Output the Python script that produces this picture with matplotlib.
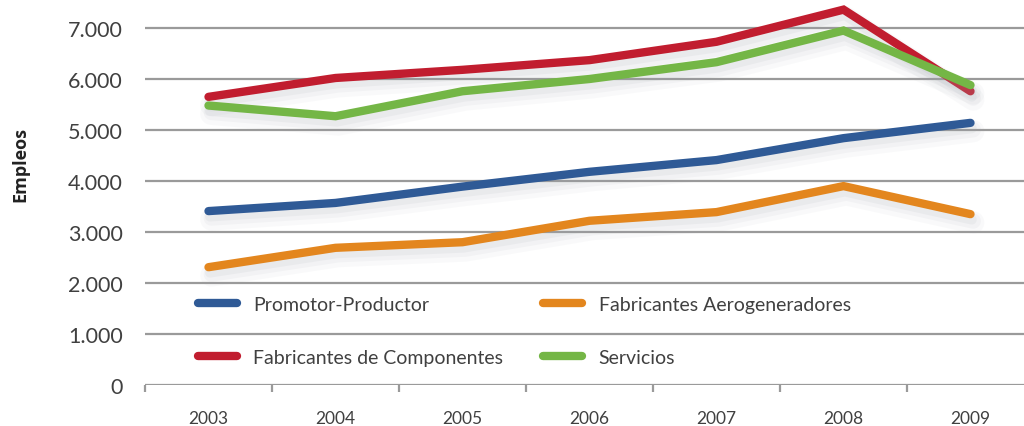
import matplotlib
matplotlib.use("Agg")
import matplotlib.pyplot as plt
import matplotlib.patheffects as pe
from matplotlib.ticker import FuncFormatter

years = ["2003", "2004", "2005", "2006", "2007", "2008", "2009"]
promotor = [3410, 3570, 3890, 4180, 4410, 4840, 5140]
aerogeneradores = [2310, 2690, 2800, 3220, 3390, 3900, 3350]
componentes = [5650, 6020, 6180, 6370, 6730, 7360, 5760]
servicios = [5480, 5270, 5760, 6000, 6330, 6950, 5880]
series_names = ["Promotor-Productor", "Fabricantes Aerogeneradores",
                "Fabricantes de Componentes", "Servicios"]
yticks = [0, 1000, 2000, 3000, 4000, 5000, 6000, 7000]

colors = ["#2F5A96", "#E3861E", "#C11D2F", "#74B646"]

W, H = 1024, 427
fig = plt.figure(figsize=(W / 100, H / 100), dpi=100)
x0, x1 = 145, 145 + 7 * 127
ax = fig.add_axes([x0 / W, (H - 386) / H, (x1 - x0) / W, 386 / H])

xs = list(range(len(years)))
shadow = [pe.SimpleLineShadow(offset=(2, -6), shadow_color="#a0a6ae", alpha=0.06, linewidth=16),
          pe.SimpleLineShadow(offset=(2, -5), shadow_color="#a0a6ae", alpha=0.08, linewidth=11),
          pe.SimpleLineShadow(offset=(1, -4), shadow_color="#a0a6ae", alpha=0.10, linewidth=7),
          pe.Normal()]
lines = []
for vals, c, name in zip([promotor, aerogeneradores, componentes, servicios], colors, series_names):
    ln, = ax.plot(xs, vals, color=c, lw=6, solid_capstyle="round", solid_joinstyle="miter",
                  label=name, zorder=3, path_effects=shadow)
    lines.append(ln)

ax.set_xlim(-0.5, 6.5)
ax.set_ylim(0, 386 / 51 * 1000)
ax.set_yticks(yticks)
ax.yaxis.set_major_formatter(FuncFormatter(lambda v, p: f"{int(v):,}".replace(",", ".")))
ax.set_xticks(xs)
ax.set_xticklabels(years)
ax.set_xticks([i - 0.5 for i in range(len(years) + 1)], minor=True)

for y in yticks:
    ax.axhline(y, color="#9a9a9a", lw=1.6, zorder=1)

for s in ax.spines.values():
    s.set_visible(False)

ax.tick_params(axis="y", length=0, pad=16, labelsize=15.5, labelcolor="#404040")
ax.tick_params(axis="x", which="major", length=0, pad=18, labelsize=12.5, labelcolor="#404040")
ax.tick_params(axis="x", which="minor", length=5, width=1.6, color="#9a9a9a", direction="out")
for lab in ax.get_yticklabels() + ax.get_xticklabels():
    lab.set_fontfamily("Lato")
    lab.set_fontweight("normal")

fig.text(20 / W, 1 - 165 / H, "Empleos", rotation=90, ha="center", va="center",
         fontsize=13, fontweight="bold", color="#222222", family="Open Sans")

handles = [lines[0], lines[2], lines[1], lines[3]]
labels = [series_names[0], series_names[2], series_names[1], series_names[3]]
leg = ax.legend(handles, labels, ncol=2, loc="upper left",
                bbox_to_anchor=(198 / W, 1 - 297 / H), bbox_transform=fig.transFigure,
                frameon=False, handlelength=2.0, handletextpad=0.85, columnspacing=2.05,
                labelspacing=1.85, borderpad=0, borderaxespad=0,
                prop={"family": "Lato", "weight": "normal", "size": 14})
for t in leg.get_texts():
    t.set_color("#404040")
for h in leg.legend_handles:
    h.set_path_effects([pe.Normal()])

fig.savefig("out.png", dpi=100)
